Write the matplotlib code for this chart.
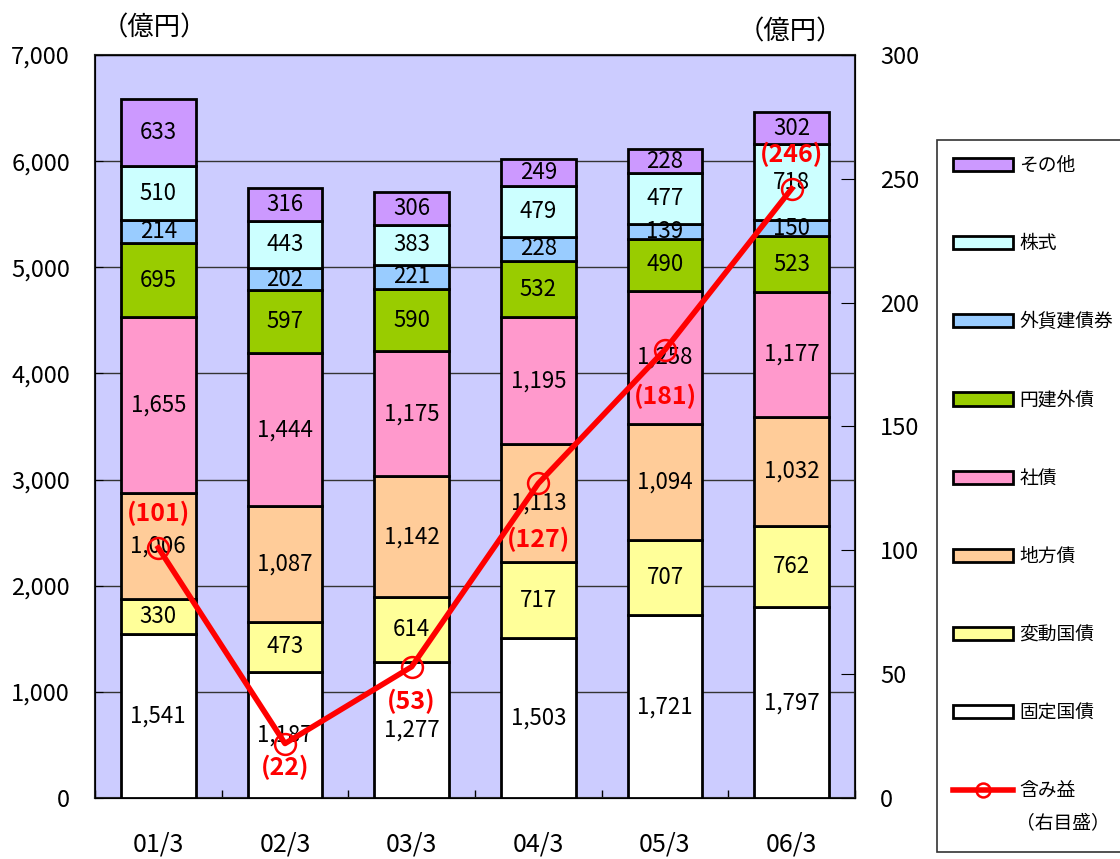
import matplotlib
matplotlib.use("Agg")
import matplotlib.pyplot as plt
from matplotlib.patches import Patch, Rectangle
from matplotlib.lines import Line2D
from matplotlib.ticker import FuncFormatter
import numpy as np

plt.rcParams['font.family'] = ['Noto Sans CJK JP', 'DejaVu Sans']

periods = ["01/3", "02/3", "03/3", "04/3", "05/3", "06/3"]
series_names = ["固定国債", "変動国債", "地方債", "社債", "円建外債", "外貨建債券", "株式", "その他"]
fixed_jgb = [1541, 1187, 1277, 1503, 1721, 1797]
floating_jgb = [330, 473, 614, 717, 707, 762]
municipal = [1006, 1087, 1142, 1113, 1094, 1032]
corporate = [1655, 1444, 1175, 1195, 1258, 1177]
yen_foreign = [695, 597, 590, 532, 490, 523]
fx_bonds = [214, 202, 221, 228, 139, 150]
stocks = [510, 443, 383, 479, 477, 718]
others = [633, 316, 306, 249, 228, 302]
unrealized_gain = [101, 22, 53, 127, 181, 246]

colors = ["#FFFFFF", "#FFFF99", "#FFCC99", "#FF99CC", "#99CC00", "#99CCFF", "#CCFFFF", "#CC99FF"]
stack = [fixed_jgb, floating_jgb, municipal, corporate, yen_foreign, fx_bonds, stocks, others]

fig = plt.figure(figsize=(11.2, 8.59), dpi=100)
ax = fig.add_axes([0.0848, 0.0710, 0.6786, 0.8650])
ax.set_facecolor("#CCCCFF")
ax2 = ax.twinx()

x = np.arange(len(periods))
bottom = np.zeros(len(periods))
for vals, col in zip(stack, colors):
    ax.bar(x, vals, 0.59, bottom=bottom, color=col, edgecolor="black",
           linewidth=2, zorder=3)
    for xi, b, v in zip(x, bottom, vals):
        ax.text(xi, b + v / 2, f"{v:,}", ha="center", va="center",
                fontsize=16, color="black", zorder=4)
    bottom += np.array(vals)

ax.set_xlim(-0.5, len(periods) - 0.5)
ax.set_ylim(0, 7000)
ax.set_yticks(np.arange(0, 7001, 1000))
ax.yaxis.set_major_formatter(FuncFormatter(lambda v, p: f"{int(v):,}"))
ax.grid(axis="y", color="#333333", linewidth=1, zorder=1)
ax.set_axisbelow(True)
ax.set_xticks(x)
ax.set_xticklabels(periods, fontsize=18)
ax.set_xticks(np.arange(-0.5, len(periods), 1), minor=True)
ax.tick_params(axis="x", which="major", length=0, pad=24)
ax.tick_params(axis="x", which="minor", direction="in", length=6, width=1)
ax.tick_params(axis="y", direction="in", length=6, labelsize=17, pad=18)
for s in ax.spines.values():
    s.set_linewidth(1.5)
    s.set_color("#222222")

ax2.set_ylim(0, 300)
ax2.set_yticks(np.arange(0, 301, 50))
ax2.tick_params(axis="y", direction="in", length=10, labelsize=17, pad=18)
ax2.plot(x, unrealized_gain, color="#FF0000", linewidth=4, marker="o",
         markersize=15, markerfacecolor="none", markeredgecolor="#FF0000",
         markeredgewidth=1.8, zorder=5)
# label offsets in points (positive = above the marker)
offsets = [25, -17, -25, -40, -34, 25]
for xi, v, off in zip(x, unrealized_gain, offsets):
    ax2.annotate(f"({v})", (xi, v), xytext=(0, off), textcoords="offset points",
                 ha="center", va="center", fontsize=18, fontweight="bold",
                 color="#FF0000", zorder=6)

fig.text(0.138, 0.968, "（億円）", ha="center", va="center", fontsize=19)
fig.text(0.706, 0.963, "（億円）", ha="center", va="center", fontsize=19)

# legend frame
fig.patches.append(Rectangle((937 / 1120, 1 - 852 / 859), 200 / 1120, 712 / 859,
                             transform=fig.transFigure, facecolor="white",
                             edgecolor="#333333", linewidth=1.2, zorder=0))

handles = [Patch(facecolor=c, edgecolor="black", linewidth=2, label=n)
           for c, n in zip(colors[::-1], series_names[::-1])]
handles.append(Line2D([0], [0], color="#FF0000", linewidth=4, marker="o",
                      markersize=10, markerfacecolor="none",
                      markeredgecolor="#FF0000", markeredgewidth=1.8,
                      label="含み益"))
leg = fig.legend(handles=handles, loc="upper left",
                 bbox_to_anchor=(953 / 1120, 1 - 155 / 859), fontsize=13.5,
                 frameon=False, handlelength=3.2, handleheight=0.7,
                 handletextpad=0.35, labelspacing=3.05, borderpad=0,
                 borderaxespad=0)
fig.text(1016 / 1120, 1 - 823 / 859, "（右目盛）", ha="left", va="center",
         fontsize=13.5)

fig.savefig("out.png", dpi=100)
